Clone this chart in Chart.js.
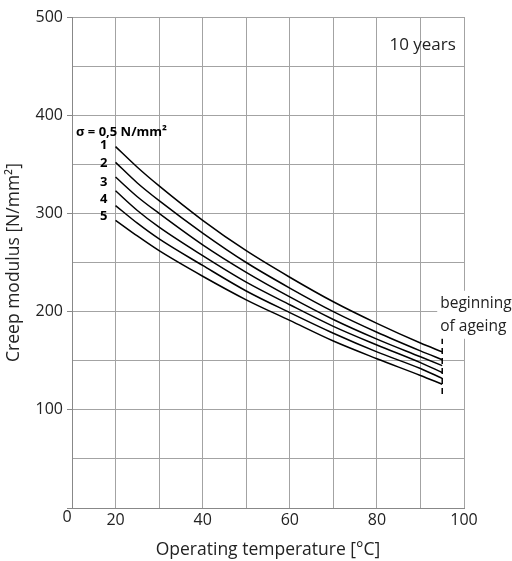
<!DOCTYPE html>
<html>
<head>
<meta charset="utf-8">
<script src="https://cdn.jsdelivr.net/npm/chart.js@4"></script>
<style>
    html, body { margin: 0; padding: 0; background: #fff; }
    #wrap { width: 512px; height: 561px; }
</style>
</head>
<body>
<div id="wrap"><canvas id="creep-chart" width="512" height="561"></canvas></div>
<script>
// Datos (10 años)
const temperatures = [20, 25, 30, 40, 50, 60, 70, 80, 90, 95];
const modulusS05 = [368, 347, 328, 293, 262, 235, 210, 188, 168, 159];
const modulusS1 = [352, 331, 313, 280, 250, 224, 200, 179, 160, 151];
const modulusS2 = [337, 317, 300, 268, 240, 215, 192, 172, 154, 145];
const modulusS3 = [323, 303, 286, 257, 230, 207, 185, 166, 148, 138];
const modulusS4 = [308, 290, 274, 247, 221, 199, 178, 159, 142, 132];
const modulusS5 = [293, 277, 262, 236, 212, 191, 170, 152, 135, 126];

const stressLabels = ['σ = 0,5 N/mm²', '1', '2', '3', '4', '5'];
const stressLabelY = [383, 369, 351, 332, 314, 297];

const ageingTemp = 95;
const ageingRange = [173, 113];

const xTickLabels = [20, 40, 60, 80, 100];
const yTickLabels = [100, 200, 300, 400, 500];

const FONT = '"Open Sans", "DejaVu Sans", sans-serif';
const TEXT = '#222';
const GRID = '#a3a3a3';

class CreepChart {
    constructor(canvasId) {
        this.ctx = document.getElementById(canvasId);
        this.init();
    }

    init() {
        const series = [modulusS05, modulusS1, modulusS2, modulusS3, modulusS4, modulusS5];
        const datasets = series.map((values, i) => ({
            label: stressLabels[i],
            data: temperatures.map((t, j) => ({ x: t, y: values[j] })),
            borderColor: '#000',
            borderWidth: 1.5,
            pointRadius: 0,
            cubicInterpolationMode: 'monotone',
            fill: false
        }));

        // marca "beginning of ageing"
        datasets.push({
            label: 'ageing',
            data: ageingRange.map(v => ({ x: ageingTemp, y: v })),
            borderColor: '#000',
            borderWidth: 1.5,
            borderDash: [6, 4],
            pointRadius: 0,
            fill: false
        });

        new Chart(this.ctx, {
            type: 'line',
            data: { datasets },
            options: {
                responsive: false,
                animation: false,
                layout: { padding: { top: 17, right: 48, left: 0, bottom: 0 } },
                plugins: {
                    legend: { display: false },
                    tooltip: { enabled: false }
                },
                scales: {
                    x: {
                        type: 'linear',
                        min: 10,
                        max: 100,
                        ticks: {
                            stepSize: 10,
                            color: TEXT,
                            font: { family: FONT, size: 16 },
                            padding: 3,
                            maxRotation: 0,
                            callback: v => xTickLabels.includes(v) ? String(v) : ''
                        },
                        grid: { color: GRID, lineWidth: 1, drawTicks: false },
                        border: { color: '#888', width: 1 },
                        title: {
                            display: true,
                            text: 'Operating temperature [°C]',
                            color: TEXT,
                            font: { family: FONT, size: 17.5 },
                            padding: { top: 3, bottom: 0 }
                        },
                        afterFit: scale => { scale.height = 53; }
                    },
                    y: {
                        type: 'linear',
                        min: 0,
                        max: 500,
                        ticks: {
                            stepSize: 50,
                            color: TEXT,
                            font: { family: FONT, size: 16 },
                            padding: 4,
                            callback: v => yTickLabels.includes(v) ? String(v) : ''
                        },
                        grid: {
                            color: GRID,
                            lineWidth: 1,
                            tickLength: 5,
                            // marcas solo en las centenas
                            tickColor: c => (c.tick && c.tick.value % 100 === 0) ? '#888' : 'rgba(0,0,0,0)'
                        },
                        border: { color: '#888', width: 1 },
                        title: {
                            display: true,
                            text: 'Creep modulus [N/mm²]',
                            color: TEXT,
                            font: { family: FONT, size: 17.5 },
                            padding: { top: 4, bottom: 0 }
                        },
                        afterFit: scale => { scale.width = 72; }
                    }
                }
            },
            plugins: [this.annotations()]
        });
    }

    annotations() {
        return {
            id: 'creepText',
            afterDraw(chart) {
                const { ctx, scales: { x, y } } = chart;
                ctx.save();

                // "0" de la esquina
                ctx.fillStyle = TEXT;
                ctx.font = '16px ' + FONT;
                ctx.textAlign = 'center';
                ctx.textBaseline = 'middle';
                ctx.fillText('0', x.left - 5, y.bottom + 9);

                // "10 years"
                ctx.font = '17px ' + FONT;
                ctx.fillText('10 years', x.getPixelForValue(90.5), y.getPixelForValue(471));

                // "beginning of ageing" con fondo blanco
                const bx = x.getPixelForValue(95) - 2;
                const by = y.getPixelForValue(210);
                ctx.fillStyle = '#fff';
                ctx.fillRect(bx - 3, by - 11, 90, 48);
                ctx.fillStyle = TEXT;
                ctx.font = '15.5px ' + FONT;
                ctx.textAlign = 'left';
                ctx.fillText('beginning', bx, by + 2);
                ctx.fillText('of ageing', bx, by + 25);

                // etiquetas de tensión
                ctx.fillStyle = '#000';
                ctx.font = 'bold 13px ' + FONT;
                stressLabels.forEach((txt, i) => {
                    const py = y.getPixelForValue(stressLabelY[i]);
                    if (i === 0) {
                        ctx.textAlign = 'left';
                        ctx.fillText(txt, x.left + 4, py);
                    } else {
                        ctx.textAlign = 'right';
                        ctx.fillText(txt, x.getPixelForValue(20) - 8, py);
                    }
                });

                ctx.restore();
            }
        };
    }
}

document.addEventListener('DOMContentLoaded', () => {
    window.creepChart = new CreepChart('creep-chart');
});
</script>
</body>
</html>
